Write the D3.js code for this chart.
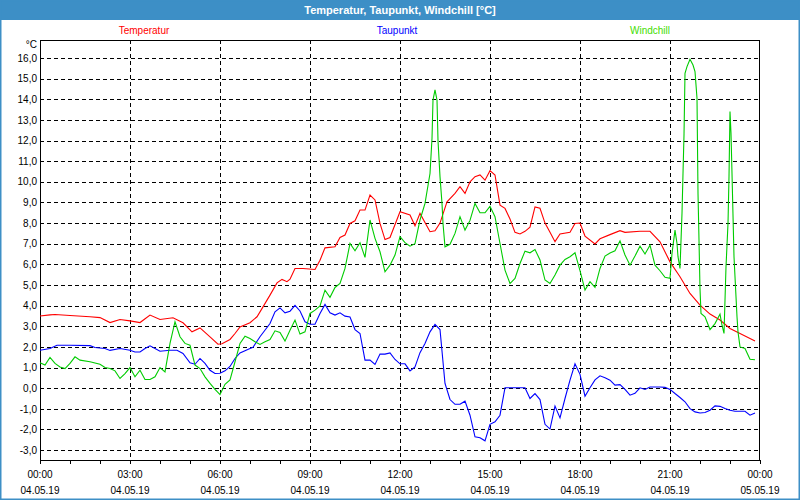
<!DOCTYPE html>
<html><head><meta charset="utf-8">
<script src="https://cdn.jsdelivr.net/npm/d3@7"></script>
<style>body{margin:0;background:#fff}svg{display:block}text{font-family:"Liberation Sans",Arial,sans-serif}</style>
</head><body><svg id="c" width="800" height="500"></svg>
<script>
// ---- data (minutes since 04.05.19 00:00, °C) ----
const seriesNames = ["Temperatur","Taupunkt","Windchill"];
const tempTimes = [0,20,30,60,100,120,140,160,180,200,220,240,266,286,304,320,340,356,364,380,390,400,420,434,446,460,474,484,494,500,510,526,550,560,570,590,600,610,620,630,640,650,660,670,680,690,700,720,740,750,760,780,790,800,814,830,840,850,860,870,880,890,900,910,920,930,940,950,960,970,980,990,1000,1010,1020,1030,1040,1060,1070,1080,1090,1110,1120,1140,1160,1170,1200,1220,1240,1260,1280,1300,1320,1340,1360,1380,1400,1420,1430];
const tempValues = [3.50,3.55,3.57,3.52,3.46,3.42,3.18,3.33,3.26,3.18,3.54,3.33,3.41,3.17,2.73,2.92,2.49,2.13,2.15,2.36,2.65,2.97,3.17,3.46,3.94,4.51,5.10,5.27,5.16,5.28,5.80,5.80,5.75,6.20,6.80,6.85,7.30,7.42,7.98,8.11,8.63,8.63,9.36,9.12,7.98,7.20,7.30,8.55,8.39,7.87,8.47,7.58,7.63,8.00,9.03,9.44,9.76,9.44,10.00,10.25,10.33,10.08,10.54,10.33,8.87,8.71,8.20,7.55,7.47,7.60,7.80,8.78,8.72,8.00,7.55,7.10,7.47,7.55,7.98,8.00,7.37,6.99,7.24,7.44,7.63,7.55,7.60,7.60,7.09,6.12,5.40,4.59,4.02,3.59,3.30,2.89,2.65,2.41,2.29];

const dewTimes = [0,20,34,60,100,110,130,140,160,180,190,200,210,220,230,240,260,274,286,300,310,320,330,340,350,360,370,380,390,400,420,426,440,460,470,480,490,500,510,520,530,540,550,560,570,580,590,600,610,620,630,640,650,660,670,680,690,700,710,720,730,740,750,760,770,780,790,800,810,820,830,840,850,860,870,880,890,900,910,920,930,950,970,980,990,1000,1010,1020,1030,1040,1050,1060,1070,1080,1090,1100,1110,1120,1130,1140,1150,1160,1170,1180,1190,1200,1210,1220,1240,1250,1260,1270,1280,1290,1300,1310,1320,1330,1340,1350,1360,1370,1380,1390,1410,1420,1430];
const dewValues = [1.84,1.92,2.08,2.08,2.06,1.97,1.92,1.83,1.92,1.84,1.75,1.75,1.92,2.05,1.92,1.79,1.84,1.84,1.68,1.23,1.16,1.44,1.20,0.87,0.71,0.72,0.84,1.05,1.44,1.71,1.92,1.98,2.49,3.13,3.70,3.89,3.65,3.73,4.01,3.74,3.22,3.10,3.10,3.62,4.06,3.65,3.54,3.65,3.49,3.45,2.84,2.65,1.36,1.36,1.15,1.65,1.65,1.71,1.39,1.18,1.18,0.84,1.03,1.72,2.17,2.73,3.09,2.84,0.23,-0.55,-0.78,-0.78,-0.63,-1.31,-2.36,-2.40,-2.55,-1.75,-1.63,-1.31,0.02,0.02,0.02,-0.50,-0.26,-0.55,-1.75,-1.98,-0.87,-1.44,-0.50,0.39,1.18,0.67,-0.39,0.02,0.40,0.60,0.50,0.39,0.15,0.17,-0.06,-0.34,-0.25,0.02,-0.06,0.06,0.06,0.04,-0.06,-0.26,-0.45,-0.66,-0.99,-1.15,-1.20,-1.18,-1.07,-0.86,-0.88,-0.99,-1.07,-1.12,-1.12,-1.31,-1.20];

const chillTimes = [0,10,20,30,40,50,60,70,80,100,120,130,140,150,160,170,180,190,200,210,220,230,240,250,260,270,280,290,300,310,320,330,340,350,360,370,380,390,400,410,420,430,440,450,460,470,480,490,500,510,520,530,540,550,560,570,580,590,600,610,620,630,640,650,660,670,680,690,700,710,720,730,740,750,760,770,780,784,786,790,794,796,800,804,806,810,820,830,840,850,860,870,880,890,900,910,920,930,940,950,960,970,980,990,1000,1010,1020,1030,1040,1050,1060,1070,1080,1090,1100,1110,1120,1130,1140,1150,1160,1170,1180,1190,1200,1210,1220,1230,1240,1250,1260,1264,1270,1274,1276,1280,1284,1286,1288,1290,1294,1300,1306,1310,1314,1316,1318,1320,1322,1330,1340,1350,1360,1364,1368,1372,1376,1378,1380,1382,1384,1388,1394,1396,1400,1410,1420,1430];
const chillValues = [1.23,1.12,1.49,1.20,1.03,0.95,1.20,1.52,1.36,1.28,1.16,1.00,0.95,0.84,0.47,0.71,1.00,0.55,0.87,0.42,0.42,0.55,1.00,0.79,2.17,3.22,2.49,2.17,2.08,1.12,0.95,0.55,0.23,-0.06,-0.31,0.19,0.40,1.28,2.17,2.52,2.41,2.25,2.12,2.25,2.36,2.78,2.70,2.28,2.81,3.30,2.62,2.73,3.62,3.78,3.98,4.75,4.40,4.88,5.07,5.80,7.01,6.66,7.05,6.34,8.15,7.26,6.61,5.64,5.96,6.45,7.34,7.05,6.88,7.00,8.15,8.95,10.40,12.10,13.96,14.45,13.96,12.00,10.25,8.95,7.98,6.85,6.97,7.50,8.31,7.66,8.13,8.95,8.50,8.50,8.81,8.31,7.01,5.72,5.07,5.32,6.04,6.64,6.56,6.72,6.21,5.24,5.07,5.48,5.96,6.24,6.37,6.56,5.70,4.75,5.16,4.88,5.80,6.40,6.55,6.66,7.14,6.45,5.96,6.40,6.88,6.50,6.93,5.96,5.69,5.37,5.32,6.53,7.66,7.01,6.37,5.80,8.47,10.40,12.27,15.26,15.58,15.94,15.66,15.34,14.05,9.44,7.17,4.83,3.62,3.46,2.84,3.13,3.59,3.05,2.65,5.88,7.98,10.25,13.40,12.35,10.40,6.37,3.46,2.73,2.00,1.92,1.40,1.38];

const yTicks = d3.range(-3, 17, 1);
const xMajorTicks = [0,180,360,540,720,900,1080,1260,1440];
const xTimeLabels = ["00:00","03:00","06:00","09:00","12:00","15:00","18:00","21:00","00:00"];
const xDateLabels = ["04.05.19","04.05.19","04.05.19","04.05.19","04.05.19","04.05.19","04.05.19","04.05.19","05.05.19"];
const titleText = "Temperatur, Taupunkt, Windchill [°C]";
const unitText = "°C";

// ---- drawing ----
const svg = d3.select("#c");
const L = 40, R = 760, T = 40, B = 460;
const x = d3.scaleLinear().domain([0, 1440]).range([L, R]);
const y = d3.scaleLinear().domain([-3.48, 16.87]).range([B, T]);

svg.append("rect").attr("width",800).attr("height",500).attr("fill","#fff");
svg.append("rect").attr("x",0).attr("y",0).attr("width",800).attr("height",20).attr("fill","#3d8fc6");
svg.append("rect").attr("x",0.5).attr("y",0.5).attr("width",799).attr("height",499).attr("fill","none").attr("stroke","#3d8fc6").attr("stroke-width",2);
svg.append("text").attr("x",400).attr("y",14).attr("text-anchor","middle").attr("fill","#fff")
  .attr("font-size","11px").attr("font-weight","bold").text(titleText);

// legend
const colors = ["#ff0000","#0000ff","#00cc00"];
const legendColors = ["#ff0000","#0000ff","#44dd00"];
const legendX = d3.scalePoint().domain(seriesNames).range([144, 650]);
svg.selectAll("text.leg").data(seriesNames).join("text").attr("class","leg")
  .attr("x", d => legendX(d)).attr("y", 34).attr("text-anchor","middle")
  .attr("font-size","10px").attr("fill",(d,i)=>legendColors[i]).text(d=>d);

// grid
const grid = svg.append("g").attr("shape-rendering","crispEdges").attr("stroke","#000").attr("stroke-dasharray","4,3");
grid.selectAll("line.h").data(yTicks).join("line").attr("class","h")
  .attr("x1",L).attr("x2",R).attr("y1",d=>Math.round(y(d))+0.5).attr("y2",d=>Math.round(y(d))+0.5);
grid.selectAll("line.v").data(xMajorTicks.slice(1,-1)).join("line").attr("class","v")
  .attr("y1",T).attr("y2",B).attr("x1",d=>Math.round(x(d))+0.5).attr("x2",d=>Math.round(x(d))+0.5);

// axes
const yAxis = d3.axisLeft(y).tickValues(yTicks).tickSize(0).tickPadding(3)
  .tickFormat(d => d.toFixed(1).replace(".", ","));
const gy = svg.append("g").attr("transform",`translate(${L},0)`).call(yAxis);
gy.select(".domain").remove();
gy.selectAll("text").attr("font-size","10px").attr("fill","#000").attr("font-family","Liberation Sans, Arial, sans-serif");

const xAxis = d3.axisBottom(x).tickValues(d3.range(0,1441,60)).tickSize(4).tickFormat("");
const gx = svg.append("g").attr("transform",`translate(0,${B})`).attr("shape-rendering","crispEdges").call(xAxis);
gx.select(".domain").remove();
gx.selectAll("line").attr("stroke","#000");

svg.selectAll("text.tl").data(xMajorTicks).join("text").attr("class","tl")
  .attr("x",d=>x(d)).attr("y",478).attr("text-anchor","middle").attr("font-size","10px").text((d,i)=>xTimeLabels[i]);
svg.selectAll("text.dl").data(xMajorTicks).join("text").attr("class","dl")
  .attr("x",d=>x(d)).attr("y",494).attr("text-anchor","middle").attr("font-size","10px").text((d,i)=>xDateLabels[i]);

svg.append("text").attr("x",37).attr("y",48).attr("text-anchor","end").attr("font-size","10px").text(unitText);

// frame
svg.append("rect").attr("x",L+0.5).attr("y",T+0.5).attr("width",R-L-1).attr("height",B-T).attr("fill","none")
  .attr("stroke","#000").attr("shape-rendering","crispEdges");

// lines
const line = d3.line().x(d=>x(d[0])).y(d=>y(d[1]));
const all = [[tempTimes,tempValues],[dewTimes,dewValues],[chillTimes,chillValues]];
all.forEach((s,i)=>{
  const pts = s[0].map((t,j)=>[t,s[1][j]]);
  svg.append("path").datum(pts).attr("d",line).attr("fill","none").attr("stroke",colors[i]).attr("stroke-width",1.1);
});
</script></body></html>
